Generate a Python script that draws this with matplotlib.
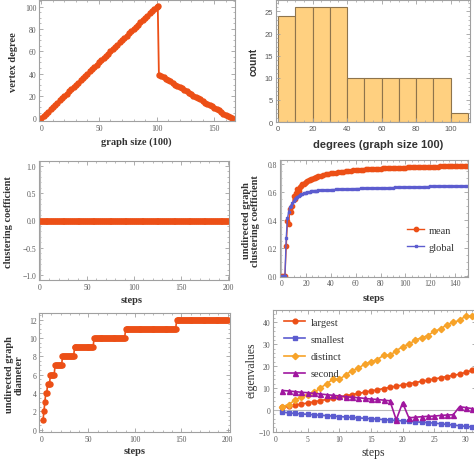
import numpy as np
import matplotlib
matplotlib.use("Agg")
import matplotlib.pyplot as plt
from matplotlib.ticker import MultipleLocator

plt.rcParams['font.family'] = ['Liberation Serif', 'DejaVu Serif']

# ---------------- data ----------------
# panel 1: vertex degree vs vertex index (graph size 100)
deg_x = [0, 2, 4, 6, 8, 10, 12, 14, 16, 18, 20, 22, 24, 26, 28, 30, 32, 34, 36, 38,
         40, 42, 44, 46, 48, 50, 52, 54, 56, 58, 60, 62, 64, 66, 68, 70, 72, 74, 76, 78,
         80, 82, 84, 86, 88, 90, 92, 94, 96, 98, 100, 101,
         102, 104, 106, 108, 110, 112, 114, 116, 118, 120, 122, 124, 126, 128, 130,
         132, 134, 136, 138, 140, 142, 144, 146, 148, 150, 152, 154, 156, 158, 160,
         162, 164, 165]
deg_y = [0, 2, 4, 6, 8, 10, 12, 14, 16, 18, 20, 22, 24, 26, 28, 30, 32, 34, 36, 38,
         40, 42, 44, 46, 48, 50, 52, 54, 56, 58, 60, 62, 64, 66, 68, 70, 72, 74, 76, 78,
         80, 82, 84, 86, 88, 90, 92, 94, 96, 98, 100, 101,
         39, 38, 37, 35, 34, 33, 32, 30, 29, 28, 27, 25, 24, 23, 22,
         20, 19, 18, 17, 15, 14, 13, 12, 11, 9, 8, 7, 6, 4, 3,
         2, 1, 0]

# panel 2: degree histogram
hist_edges = [0, 10, 20, 30, 40, 50, 60, 70, 80, 90, 100, 110]
hist_counts = [24, 26, 26, 26, 10, 10, 10, 10, 10, 10, 2]

# panel 3: clustering coefficient (always zero)
clus_steps = list(range(0, 201, 2))
clus_vals = [0, 0, 0, 0, 0, 0, 0, 0, 0, 0,
             0, 0, 0, 0, 0, 0, 0, 0, 0, 0,
             0, 0, 0, 0, 0, 0, 0, 0, 0, 0,
             0, 0, 0, 0, 0, 0, 0, 0, 0, 0,
             0, 0, 0, 0, 0, 0, 0, 0, 0, 0,
             0, 0, 0, 0, 0, 0, 0, 0, 0, 0,
             0, 0, 0, 0, 0, 0, 0, 0, 0, 0,
             0, 0, 0, 0, 0, 0, 0, 0, 0, 0,
             0, 0, 0, 0, 0, 0, 0, 0, 0, 0,
             0, 0, 0, 0, 0, 0, 0, 0, 0, 0,
             0]

# panel 4: undirected graph clustering coefficient
cc_steps = list(range(1, 31)) + list(range(32, 151, 2))
cc_mean = [0, 0, 0, 0.21, 0.39, 0.37, 0.48, 0.46, 0.50, 0.57,
           0.55, 0.59, 0.62, 0.61, 0.635, 0.645, 0.655, 0.66, 0.668, 0.673,
           0.678, 0.683, 0.688, 0.692, 0.696, 0.700, 0.704, 0.707, 0.710, 0.713,
           0.718, 0.722, 0.726, 0.730, 0.734, 0.737, 0.740, 0.742, 0.745, 0.747,
           0.749, 0.751, 0.753, 0.755, 0.756, 0.758, 0.759, 0.761, 0.762, 0.763,
           0.764, 0.765, 0.766, 0.767, 0.768, 0.769, 0.770, 0.771, 0.772, 0.772,
           0.773, 0.774, 0.775, 0.775, 0.776, 0.777, 0.777, 0.778, 0.778, 0.779,
           0.780, 0.780, 0.781, 0.781, 0.782, 0.782, 0.783, 0.783, 0.784, 0.784,
           0.785, 0.785, 0.786, 0.786, 0.787, 0.787, 0.788, 0.788, 0.789, 0.790]
cc_global = [0, 0, 0, 0.27, 0.41, 0.46, 0.49, 0.50, 0.52, 0.535,
             0.548, 0.558, 0.566, 0.573, 0.578, 0.583, 0.587, 0.590, 0.593, 0.596,
             0.598, 0.600, 0.602, 0.604, 0.605, 0.607, 0.608, 0.609, 0.610, 0.611,
             0.613, 0.614, 0.615, 0.616, 0.617, 0.618, 0.619, 0.620, 0.621, 0.622,
             0.622, 0.623, 0.624, 0.624, 0.625, 0.625, 0.626, 0.626, 0.627, 0.627,
             0.628, 0.628, 0.629, 0.629, 0.630, 0.630, 0.631, 0.631, 0.632, 0.632,
             0.633, 0.633, 0.634, 0.634, 0.635, 0.635, 0.636, 0.636, 0.637, 0.637,
             0.638, 0.638, 0.639, 0.639, 0.640, 0.640, 0.640, 0.641, 0.641, 0.641,
             0.642, 0.642, 0.642, 0.643, 0.643, 0.643, 0.644, 0.644, 0.644, 0.645]

# panel 5: undirected graph diameter (value, number of steps it lasts)
diam_values = [1, 2, 3, 4, 5, 6, 7, 8, 9, 10, 11, 12]
diam_runs = [1, 1, 1, 2, 3, 5, 8, 13, 21, 34, 55, 56]

# panel 6: eigenvalues
eig_steps = list(range(1, 32))
eig_largest = [1.2, 1.6, 2.2, 2.7, 3.2, 3.7, 4.3, 4.8, 5.4, 5.9, 6.5, 7.0, 7.6, 8.1, 8.7,
               9.2, 9.8, 10.3, 10.9, 11.4, 12.0, 12.5, 13.1, 13.6, 14.2, 14.7, 15.3,
               15.8, 16.4, 17.2, 18.2]
eig_smallest = [-1.0, -1.3, -1.6, -1.8, -2.0, -2.2, -2.4, -2.6, -2.8, -3.0, -3.2, -3.4,
                -3.6, -3.8, -4.0, -4.2, -4.4, -4.6, -4.8, -5.0, -5.2, -5.4, -5.6, -5.8,
                -6.0, -6.3, -6.6, -6.9, -7.2, -7.5, -7.8]
eig_distinct = [1.5, 2.5, 4.5, 6, 7, 8, 10, 12, 14, 14, 16, 18, 19, 21, 22, 23, 25, 25,
                27, 29, 30, 32, 33, 34, 36, 37, 39, 40, 41, 43, 43]
eig_second = [8.9, 8.7, 8.4, 8.1, 7.9, 7.6, 7.3, 7.0, 6.7, 6.4, 6.1, 5.8, 5.6, 5.3, 5.0,
              4.8, 4.5, 4.2, -4.5, 3.3, -3.6, -3.3, -3.1, -2.9, -2.8, -2.5, -2.3, -2.2,
              1.5, 1.1, 0.6]

# ---------------- styling ----------------
RED = '#EC4F16'
BLUE = '#5C5CCF'
ORANGE = '#F7A329'
PURPLE = '#A0179F'
FRAME = '#A0A0A0'
TICKC = '#5A5A5A'
LABC = '#333333'

W, H = 474, 460
fig = plt.figure(figsize=(W / 100, H / 100), dpi=100)


def add_ax(l, t, r, b):
    return fig.add_axes([l / W, 1 - b / H, (r - l) / W, (b - t) / H])


def style(ax, xmaj, xmin, ymaj, ymin, family='Liberation Serif'):
    for sp in ax.spines.values():
        sp.set_color(FRAME)
        sp.set_linewidth(0.8)
    ax.xaxis.set_major_locator(MultipleLocator(xmaj))
    ax.xaxis.set_minor_locator(MultipleLocator(xmin))
    ax.yaxis.set_major_locator(MultipleLocator(ymaj))
    ax.yaxis.set_minor_locator(MultipleLocator(ymin))
    ax.tick_params(which='both', direction='in', top=True, right=True,
                   color=FRAME, labelcolor=TICKC, labelsize=5.5, pad=2)
    ax.tick_params(which='major', length=3, width=0.6)
    ax.tick_params(which='minor', length=1.5, width=0.5)
    for t in ax.get_xticklabels() + ax.get_yticklabels():
        t.set_fontfamily(family)


def flabel(x, y, s, rot=0, size=7.5, weight='bold', family='Liberation Serif'):
    fig.text(x / W, 1 - y / H, s, rotation=rot, ha='center', va='center',
             fontsize=size, fontweight=weight, family=family, color=LABC,
             multialignment='center', linespacing=1.1)


# panel 1
ax1 = add_ax(39, 1, 235, 122)
ax1.plot(deg_x, deg_y, color=RED, lw=1.3, marker='o', ms=3.6, mec=RED, mfc=RED)
ax1.set_xlim(-2, 168)
ax1.set_ylim(-2.5, 106)
style(ax1, 50, 10, 20, 5)
flabel(136, 142, 'graph size (100)')
flabel(14, 62, 'vertex degree', rot=90)

# panel 2
ax2 = add_ax(276, 1, 470, 123)
ax2.bar(hist_edges[:-1], hist_counts, width=np.diff(hist_edges), align='edge',
        color='#FFD080', edgecolor='#8E744C', linewidth=0.8)
ax2.set_xlim(-1.2, 111.2)
ax2.set_ylim(0, 27.6)
style(ax2, 20, 5, 5, 1, family='Liberation Sans')
flabel(378, 145, 'degrees (graph size 100)', size=8, family='Liberation Sans')
flabel(254, 62, 'count', rot=90, size=7.5, family='Liberation Sans')

# panel 3
ax3 = add_ax(39, 162, 229, 281)
ax3.axvline(0, color='#BBBBBB', lw=0.8)
ax3.plot(clus_steps, clus_vals, color=RED, lw=1.3, marker='o', ms=3.8, mec=RED, mfc=RED)
ax3.set_xlim(-1, 201)
ax3.set_ylim(-1.09, 1.09)
style(ax3, 50, 10, 0.5, 0.1)
flabel(132, 300.5, 'steps')
flabel(9, 222, 'clustering coefficient', rot=90)

# panel 4
ax4 = add_ax(280, 161, 468, 277.7)
ax4.axvline(0, color='#BBBBBB', lw=0.8)
ax4.plot(cc_steps, cc_mean, color=RED, lw=1.0, marker='o', ms=3.1, mec=RED, mfc=RED,
         label='mean')
ax4.plot(cc_steps, cc_global, color=BLUE, lw=1.0, marker='s', ms=2.0, mec=BLUE, mfc=BLUE,
         label='global')
ax4.set_xlim(-1, 150.5)
ax4.set_ylim(-0.008, 0.83)
style(ax4, 20, 5, 0.2, 0.05)
leg4 = ax4.legend(loc='center left', bbox_to_anchor=(0.65, 0.325), frameon=False,
                  prop={'family': 'Liberation Serif', 'size': 7.5}, handlelength=1.6,
                  handletextpad=0.4, labelspacing=0.75, borderpad=0)
for t in leg4.get_texts():
    t.set_color(LABC)
flabel(374, 298.5, 'steps')
flabel(251, 221, 'undirected graph\nclustering coefficient', rot=90)

# panel 5
ax5 = add_ax(39.3, 314.3, 230, 433.3)
d_steps = np.arange(1, sum(diam_runs) + 1)
d_vals = np.repeat(diam_values, diam_runs)
ax5.plot(d_steps, d_vals, color=RED, lw=1.2, marker='o', ms=3.6, mec=RED, mfc=RED)
ax5.set_xlim(-3, 202.5)
ax5.set_ylim(-0.3, 12.7)
style(ax5, 50, 10, 2, 0.5)
flabel(135, 451.5, 'steps')
flabel(14, 375, 'undirected graph\ndiameter', rot=90)

# panel 6
ax6 = add_ax(273, 311, 476, 433.3)
ax6.axhline(0, color='#BBBBBB', lw=0.8)
ax6.plot(eig_steps, eig_largest, color=RED, lw=1.2, marker='o', ms=3.4, label='largest')
ax6.plot(eig_steps, eig_smallest, color=BLUE, lw=1.2, marker='s', ms=2.4, label='smallest')
ax6.plot(eig_steps, eig_distinct, color=ORANGE, lw=1.2, marker='D', ms=3.2, label='distinct')
ax6.plot(eig_steps, eig_second, color=PURPLE, lw=1.2, marker='^', ms=3.6, label='second')
ax6.set_xlim(-0.47, 31.6)
ax6.set_ylim(-10.2, 45.7)
style(ax6, 5, 1, 10, 2)
leg6 = ax6.legend(loc='upper left', bbox_to_anchor=(0.03, 0.98), frameon=False,
                  prop={'family': 'Liberation Serif', 'size': 7.5}, handlelength=2.0,
                  handletextpad=0.5, labelspacing=0.75, borderpad=0)
for t in leg6.get_texts():
    t.set_color(LABC)
flabel(373, 453, 'steps', size=8.5, weight='normal')
flabel(252, 370, 'eigenvalues', rot=90, size=8.5, weight='normal')

fig.savefig('out.png', dpi=100)
